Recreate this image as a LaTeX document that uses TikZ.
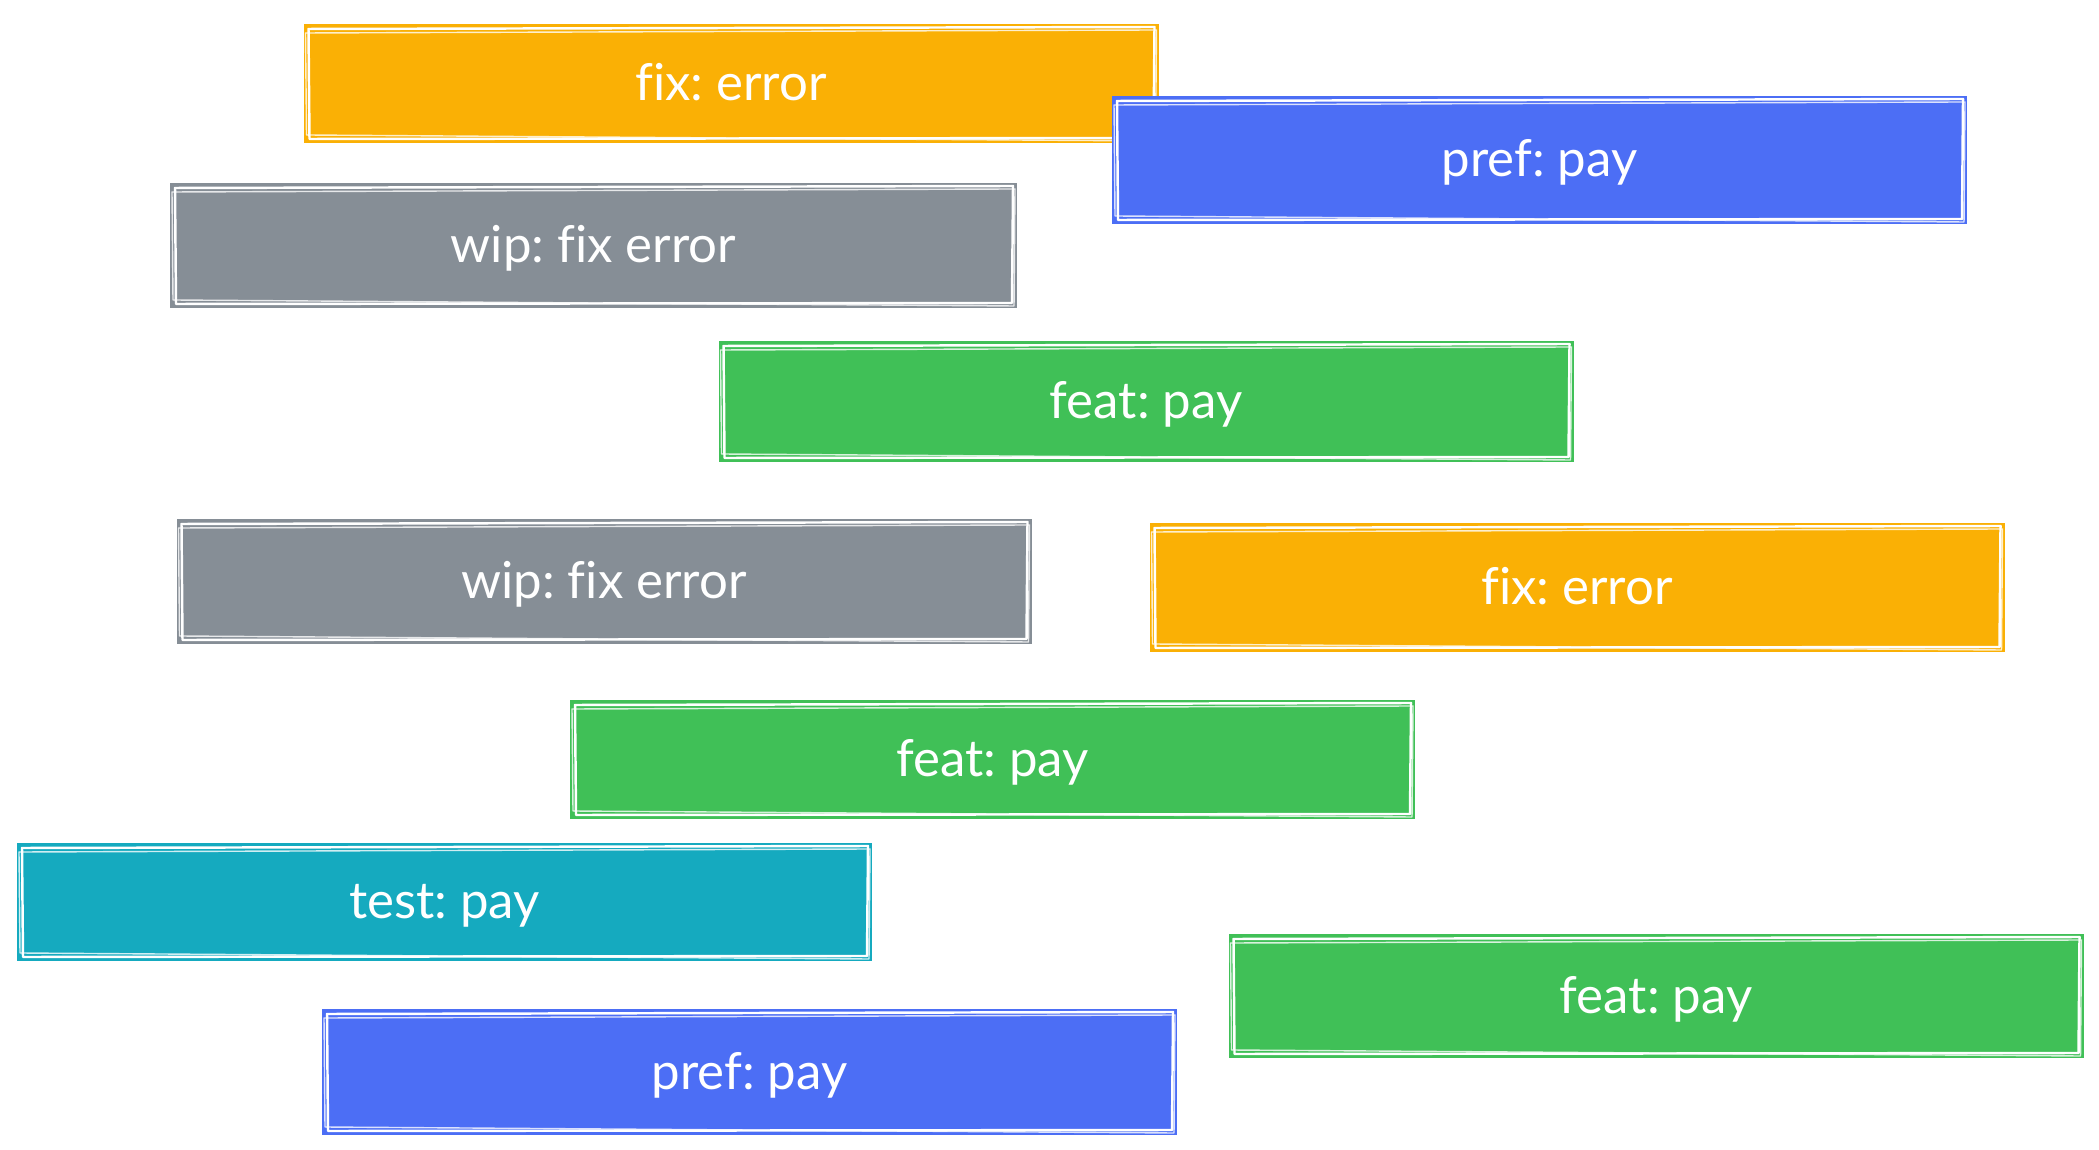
\documentclass[tikz,border=0pt]{standalone}
\usepackage{fontspec}
\setmainfont[Ligatures=NoCommon]{Lato}
\usepackage{tikz}
\frenchspacing

\definecolor{ocyellow}{HTML}{FAB005}
\definecolor{ocblue}{HTML}{4C6EF5}
\definecolor{ocgray}{HTML}{868E96}
\definecolor{ocgreen}{HTML}{40C057}
\definecolor{occyan}{HTML}{15AABF}

\begin{document}
\begin{tikzpicture}[
  sketch/.style={draw=white, line width=0.7pt, line join=round},
  commit/.style={shape=rectangle, minimum width=8.55cm, minimum height=1.22cm,
                 text=white, font=\fontsize{14.5}{17}\selectfont, inner sep=0pt,
                 text height=0.44cm, text depth=0.1cm,
                 path picture={
                   % rough double outline
                   \draw[sketch] ([shift={(0.05,-0.05)}]path picture bounding box.north west)
                     -- ([shift={(-0.04,-0.03)}]path picture bounding box.north east)
                     -- ([shift={(-0.05,0.05)}]path picture bounding box.south east)
                     -- ([shift={(0.06,0.04)}]path picture bounding box.south west) -- cycle;
                   \draw[sketch, line width=0.4pt, opacity=0.8] ([shift={(0.02,-0.09)}]path picture bounding box.north west)
                     -- ([shift={(-0.02,-0.06)}]path picture bounding box.north east)
                     -- ([shift={(-0.03,0.02)}]path picture bounding box.south east)
                     -- ([shift={(0.03,0.08)}]path picture bounding box.south west) -- cycle;
                 }}
]
\useasboundingbox (0,0) rectangle (20.99,-11.5);

\node[commit, fill=ocyellow, minimum height=1.19cm](fixA) at (7.31,-0.835) {fix: error};
\node[commit, fill=ocblue, minimum height=1.28cm](prefA) at (15.395,-1.60) {pref: pay};
\node[commit, fill=ocgray, minimum width=8.47cm, minimum height=1.25cm](wipA) at (5.935,-2.455) {wip: fix error};
\node[commit, fill=ocgreen, minimum height=1.21cm](featA) at (11.46,-4.015) {feat: pay};
\node[commit, fill=ocgray, minimum height=1.25cm](wipB) at (6.04,-5.815) {wip: fix error};
\node[commit, fill=ocyellow, minimum height=1.29cm](fixB) at (15.77,-5.875) {fix: error};
\node[commit, fill=ocgreen, minimum width=8.45cm, minimum height=1.19cm](featB) at (9.925,-7.595) {feat: pay};
\node[commit, fill=occyan, minimum height=1.18cm](testA) at (4.445,-9.02) {test: pay};
\node[commit, fill=ocgreen, minimum height=1.24cm](featC) at (16.56,-9.96) {feat: pay};
\node[commit, fill=ocblue, minimum height=1.26cm](prefB) at (7.495,-10.72) {pref: pay};
\end{tikzpicture}
\end{document}
